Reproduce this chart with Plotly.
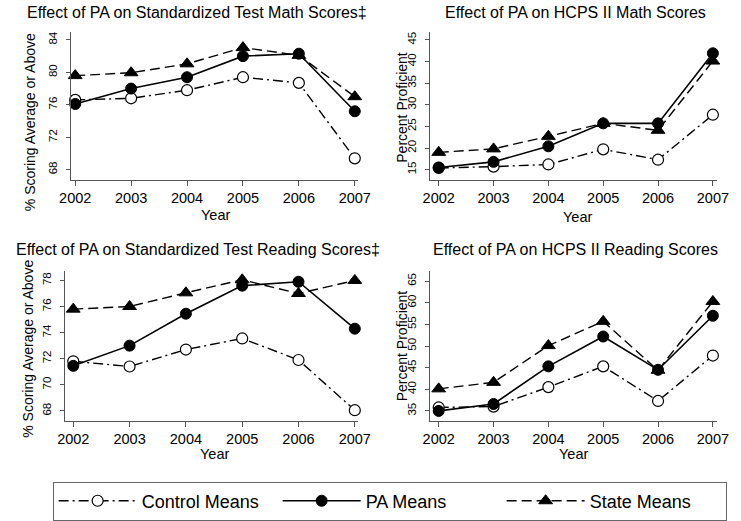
import plotly.graph_objects as go

W, H = 741, 521
years = [2002, 2003, 2004, 2005, 2006, 2007]

# Standardized Test Math
std_math_control = [76.6, 76.8, 77.8, 79.4, 78.7, 69.4]
std_math_pa = [76.1, 78.0, 79.4, 82.0, 82.3, 75.2]
std_math_state = [79.6, 79.95, 81.05, 83.05, 82.1, 77.0]

# HCPS II Math
hcps_math_control = [15.4, 15.7, 16.2, 19.7, 17.3, 27.7]
hcps_math_pa = [15.5, 16.8, 20.4, 25.7, 25.7, 41.9]
hcps_math_state = [19.0, 19.8, 22.7, 25.7, 24.1, 40.1]

# Standardized Test Reading
std_read_control = [71.8, 71.4, 72.7, 73.55, 71.9, 68.05]
std_read_pa = [71.45, 73.0, 75.45, 77.6, 77.9, 74.3]
std_read_state = [75.8, 76.0, 77.05, 78.05, 77.0, 78.0]

# HCPS II Reading
hcps_read_control = [35.8, 36.0, 40.5, 45.3, 37.3, 47.8]
hcps_read_pa = [35.0, 36.6, 45.3, 52.2, 44.5, 57.0]
hcps_read_state = [40.1, 41.6, 50.1, 55.7, 44.4, 60.3]

titles = [
    "Effect of PA on Standardized Test Math Scores\u2021",
    "Effect of PA on HCPS II Math Scores",
    "Effect of PA on Standardized Test Reading Scores\u2021",
    "Effect of PA on HCPS II Reading Scores",
]
ytitles = ["% Scoring Average or Above", "Percent Proficient",
           "% Scoring Average or Above", "Percent Proficient"]
series_names = ["Control Means", "PA Means", "State Means"]

FONT = "Liberation Sans, Arial, Helvetica, sans-serif"
AX = "#555555"

def px(x):
    return x / W

def py(y):
    return 1 - y / H

# panel pixel boxes: (left, right, top, bottom)
boxes = [(60.7, 358, 31.7, 180), (431.7, 728.3, 31.7, 180),
         (54.3, 358, 271.7, 421.7), (431.7, 728.3, 271.7, 421.5)]
xranges = [[2001.92, 2007.065], [2001.836, 2007.07],
           [2001.845, 2007.064], [2001.836, 2007.07]]
yranges = [[66.77, 85.02], [12.69, 46.9], [67.23, 78.71], [32.74, 67.3]]
ydticks = [(68, 4), (15, 5), (68, 2), (35, 5)]

data = [
    (std_math_control, std_math_pa, std_math_state),
    (hcps_math_control, hcps_math_pa, hcps_math_state),
    (std_read_control, std_read_pa, std_read_state),
    (hcps_read_control, hcps_read_pa, hcps_read_state),
]

styles = [
    dict(line=dict(color="black", width=1.4, dash="10px,4px,2px,4px"),
         marker=dict(symbol="circle", size=11, color="white",
                     line=dict(color="black", width=1.2))),
    dict(line=dict(color="black", width=1.6, dash="solid"),
         marker=dict(symbol="circle", size=11, color="black",
                     line=dict(color="black", width=1))),
    dict(line=dict(color="black", width=1.4, dash="10px,5px"),
         marker=dict(symbol="triangle-up", size=12, color="black",
                     line=dict(color="black", width=1))),
]

fig = go.Figure()
for i, series in enumerate(data):
    xa = "x" if i == 0 else f"x{i+1}"
    ya = "y" if i == 0 else f"y{i+1}"
    for j, vals in enumerate(series):
        fig.add_trace(go.Scatter(
            x=years, y=vals, mode="lines+markers", name=series_names[j],
            xaxis=xa, yaxis=ya, showlegend=(i == 0),
            line=styles[j]["line"], marker=styles[j]["marker"],
            cliponaxis=False))

layout = dict(
    width=W, height=H, margin=dict(l=0, r=0, t=0, b=0),
    paper_bgcolor="white", plot_bgcolor="white",
    font=dict(family=FONT, color="black", size=14),
    showlegend=True,
    legend=dict(orientation="h", x=px(42), xanchor="left", y=py(502), yanchor="middle",
                font=dict(size=18, family=FONT), bordercolor="#666666", borderwidth=1,
                bgcolor="white", entrywidth=131, entrywidthmode="pixels",
                itemwidth=78, traceorder="normal"),
)
for i in range(4):
    l, r, t, b = boxes[i]
    sfx = "" if i == 0 else str(i + 1)
    y0, dy = ydticks[i]
    layout["xaxis" + sfx] = dict(
        domain=[px(l), px(r)], range=xranges[i], anchor="y" + sfx,
        tickvals=years, ticks="outside", ticklen=5, tickcolor=AX, tickwidth=1,
        showline=True, linecolor=AX, linewidth=1, showgrid=False, zeroline=False,
        tickfont=dict(size=14.5, family=FONT))
    layout["yaxis" + sfx] = dict(
        domain=[py(b), py(t)], range=yranges[i], anchor="x" + sfx,
        tick0=y0, dtick=dy, ticks="outside", ticklen=4, tickcolor=AX, tickwidth=1,
        showline=True, linecolor=AX, linewidth=1, showgrid=False, zeroline=False,
        tickangle=-90, ticklabelstandoff=4,
        tickfont=dict(size=11.5, family=FONT))
fig.update_layout(**layout)

ann = []
title_pos = [(191, 13), (582, 13), (192, 250), (582, 250)]
ytitle_pos = [(18, 122), (403, 107), (17, 349), (403, 346)]
xtitle_pos = [(210, 215), (584, 217), (209, 455), (580, 455)]
for i in range(4):
    ann.append(dict(text=titles[i], x=px(title_pos[i][0]), y=py(title_pos[i][1]),
                    xref="paper", yref="paper", showarrow=False,
                    xanchor="center", yanchor="middle", font=dict(size=16)))
    ann.append(dict(text=ytitles[i], x=px(ytitle_pos[i][0]), y=py(ytitle_pos[i][1]),
                    xref="paper", yref="paper", showarrow=False, textangle=-90,
                    xanchor="center", yanchor="middle", font=dict(size=14)))
    ann.append(dict(text="Year", x=px(xtitle_pos[i][0]), y=py(xtitle_pos[i][1]),
                    xref="paper", yref="paper", showarrow=False,
                    xanchor="center", yanchor="middle", font=dict(size=14.5)))
fig.update_layout(annotations=ann)

fig.write_html("out.html", config={"displayModeBar": False},
               post_script="document.body.style.margin='0px';document.body.style.overflow='hidden';")
